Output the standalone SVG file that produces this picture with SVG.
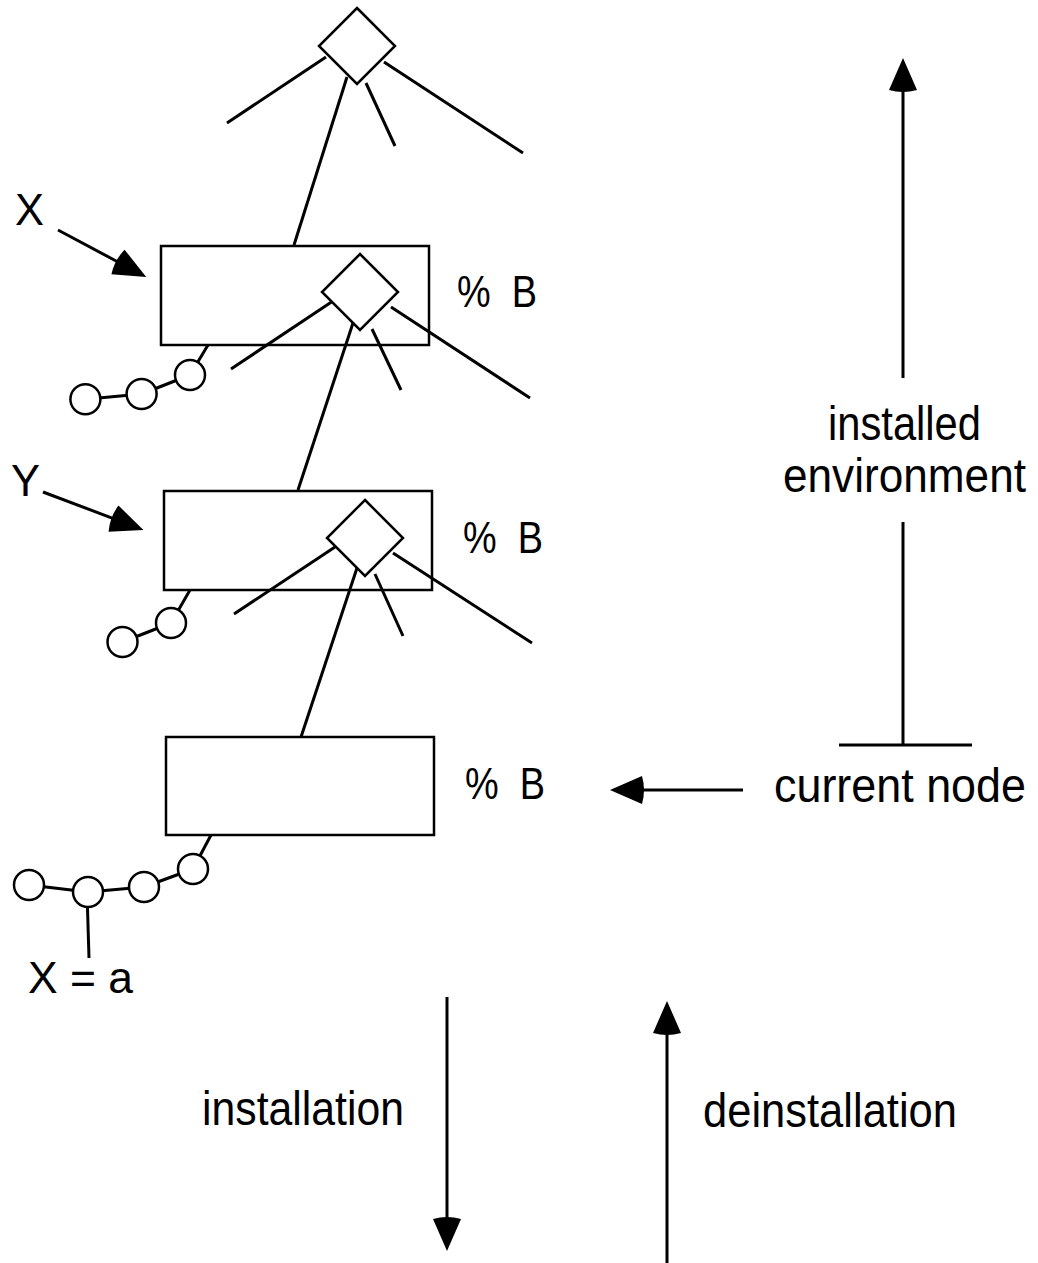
<svg xmlns="http://www.w3.org/2000/svg" width="1038" height="1263" viewBox="0 0 1038 1263">
<style>
  .ln { stroke:#000; stroke-width:3; fill:none; stroke-linecap:butt; }
  .box { stroke:#000; stroke-width:2.5; fill:none; }
  .dia { stroke:#000; stroke-width:2.5; fill:#fff; }
  .ring { stroke:#000; stroke-width:2.5; fill:#fff; }
  .t { font-family:"Liberation Sans Narrow","Liberation Sans",Arial,sans-serif; fill:#000; }
  .lo { font-size:49px; }
  .up { font-size:45px; }
</style>
<defs>
  <marker id="ah" markerUnits="userSpaceOnUse" markerWidth="40" markerHeight="40" refX="0" refY="0" orient="auto" overflow="visible">
    <path d="M32,0 L0,-14 Q-4,0 0,14 Z" fill="#000"/>
  </marker>
</defs>

<g id="connectors">
  <!-- root diamond branches -->
  <line class="ln" x1="326" y1="57" x2="227" y2="123"/>
  <line class="ln" x1="347" y1="77" x2="294" y2="245"/>
  <line class="ln" x1="366" y1="83" x2="395" y2="146"/>
  <line class="ln" x1="384" y1="62" x2="523" y2="153"/>
  <!-- X diamond branches -->
  <line class="ln" x1="333" y1="301" x2="231" y2="369"/>
  <line class="ln" x1="353" y1="323" x2="298" y2="490"/>
  <line class="ln" x1="372" y1="329" x2="401" y2="390"/>
  <line class="ln" x1="391" y1="307" x2="530" y2="398"/>
  <!-- Y diamond branches -->
  <line class="ln" x1="335" y1="547" x2="234" y2="614"/>
  <line class="ln" x1="357" y1="568" x2="301" y2="737"/>
  <line class="ln" x1="375" y1="574" x2="403" y2="636"/>
  <line class="ln" x1="393" y1="553" x2="532" y2="643"/>
  <!-- pointer arrows -->
  <line class="ln" x1="58" y1="230" x2="118" y2="262" marker-end="url(#ah)"/>
  <line class="ln" x1="43" y1="492" x2="113.5" y2="518.6" marker-end="url(#ah)"/>
  <line class="ln" x1="743" y1="790" x2="642" y2="790" marker-end="url(#ah)"/>
  <!-- installed environment -->
  <line class="ln" x1="903" y1="378" x2="903" y2="90" marker-end="url(#ah)"/>
  <line class="ln" x1="903" y1="522" x2="903" y2="745"/>
  <line class="ln" x1="839" y1="745" x2="972" y2="745"/>
  <!-- installation / deinstallation -->
  <line class="ln" x1="447" y1="997" x2="447" y2="1219" marker-end="url(#ah)"/>
  <line class="ln" x1="667" y1="1263" x2="667" y2="1033" marker-end="url(#ah)"/>
</g>

<g id="root">
  <polygon class="dia" points="357,8 395,46 357,84 319,46"/>
</g>

<g id="nodeX">
  <rect class="box" x="161" y="246" width="268" height="99"/>
  <polygon class="dia" points="360,254 398,292 360,330 322,292"/>
  <text class="t up" x="457" y="307" textLength="80" lengthAdjust="spacingAndGlyphs">%&#160;&#160;B</text>
  <g id="chainX">
    <line class="ln" x1="208" y1="345" x2="190" y2="375"/>
    <line class="ln" x1="190" y1="375" x2="141.6" y2="394"/>
    <line class="ln" x1="141.6" y1="394" x2="85.4" y2="399.3"/>
    <circle class="ring" cx="190" cy="375" r="15"/>
    <circle class="ring" cx="141.6" cy="394" r="15"/>
    <circle class="ring" cx="85.4" cy="399.3" r="15"/>
  </g>
</g>

<g id="nodeY">
  <rect class="box" x="164" y="491" width="268" height="99"/>
  <polygon class="dia" points="365,500 403,538 365,576 327,538"/>
  <text class="t up" x="463" y="553" textLength="80" lengthAdjust="spacingAndGlyphs">%&#160;&#160;B</text>
  <g id="chainY">
    <line class="ln" x1="190" y1="590" x2="171" y2="623"/>
    <line class="ln" x1="171" y1="623" x2="122.5" y2="642"/>
    <circle class="ring" cx="171" cy="623" r="15"/>
    <circle class="ring" cx="122.5" cy="642" r="15"/>
  </g>
</g>

<g id="nodeCurrent">
  <rect class="box" x="166" y="737" width="268" height="98"/>
  <text class="t up" x="465" y="799" textLength="80" lengthAdjust="spacingAndGlyphs">%&#160;&#160;B</text>
  <g id="chainCurrent">
    <line class="ln" x1="211" y1="835" x2="193" y2="869"/>
    <line class="ln" x1="193" y1="869" x2="144" y2="887"/>
    <line class="ln" x1="144" y1="887" x2="88" y2="892"/>
    <line class="ln" x1="88" y1="892" x2="29" y2="885"/>
    <line class="ln" x1="87" y1="892" x2="89" y2="958"/>
    <circle class="ring" cx="193" cy="869" r="15"/>
    <circle class="ring" cx="144" cy="887" r="15"/>
    <circle class="ring" cx="88" cy="892" r="15"/>
    <circle class="ring" cx="29" cy="885" r="15"/>
  </g>
</g>

<g id="labels">
  <text class="t up" x="15" y="225" textLength="29" lengthAdjust="spacingAndGlyphs">X</text>
  <text class="t up" x="11" y="496" textLength="29" lengthAdjust="spacingAndGlyphs">Y</text>
  <text class="t up" x="28" y="993" textLength="105" lengthAdjust="spacingAndGlyphs">X = a</text>
  <text class="t lo" x="774" y="802" textLength="252" lengthAdjust="spacingAndGlyphs">current node</text>
  <text class="t lo" x="828" y="440" textLength="153" lengthAdjust="spacingAndGlyphs">installed</text>
  <text class="t lo" x="783" y="492" textLength="243" lengthAdjust="spacingAndGlyphs">environment</text>
  <text class="t lo" x="202" y="1125" textLength="202" lengthAdjust="spacingAndGlyphs">installation</text>
  <text class="t lo" x="703" y="1127" textLength="254" lengthAdjust="spacingAndGlyphs">deinstallation</text>
</g>
</svg>
